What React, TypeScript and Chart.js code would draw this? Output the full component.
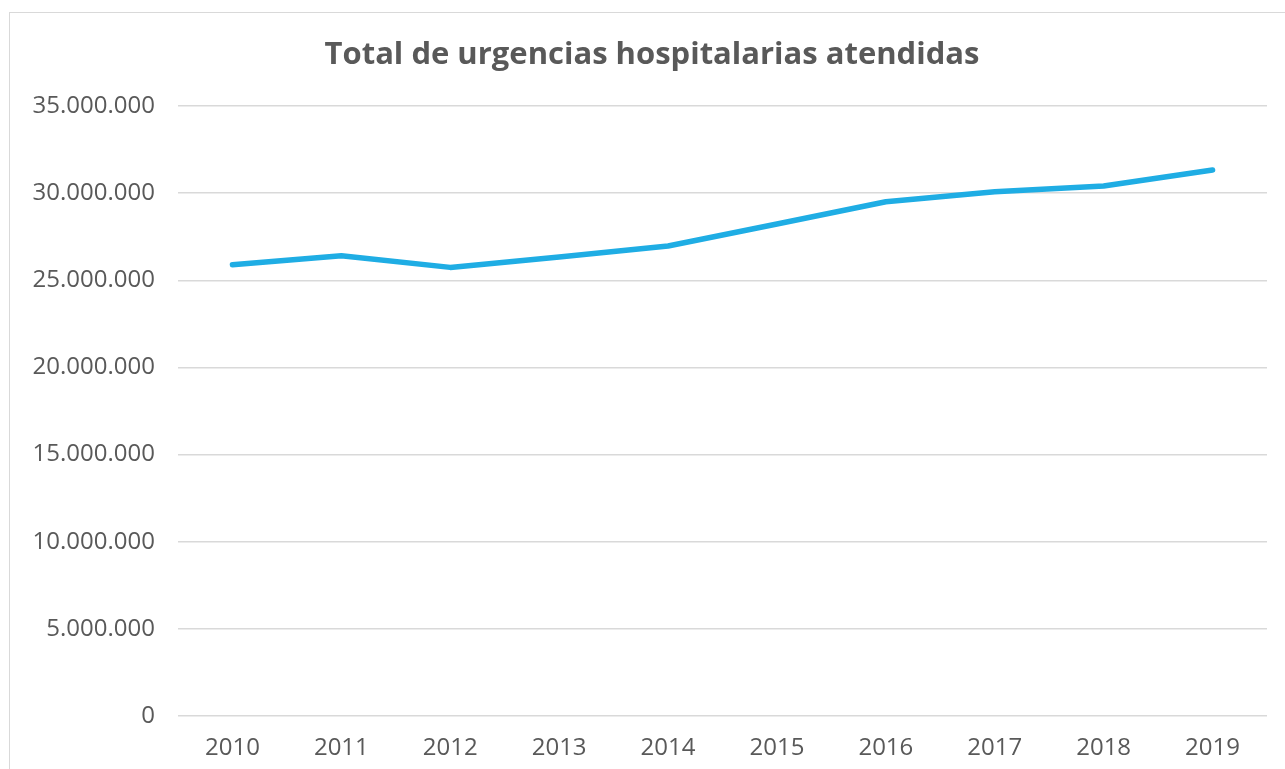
import React, { useEffect, useRef } from "react";
import { Chart, registerables } from "chart.js";

Chart.register(...registerables);

const TITLE = "Total de urgencias hospitalarias atendidas";
const YEARS = ["2010", "2011", "2012", "2013", "2014", "2015", "2016", "2017", "2018", "2019"];
const URGENCIAS = [25890000, 26410000, 25740000, 26330000, 26970000, 28230000, 29510000, 30080000, 30410000, 31330000];
const Y_MIN = 0;
const Y_MAX = 35000000;
const Y_STEP = 5000000;

const W = 1285;
const H = 780;

const fmt = (v: number) => String(Math.round(v)).replace(/\B(?=(\d{3})+(?!\d))/g, ".");

export default function App() {
  const ref = useRef<HTMLCanvasElement | null>(null);
  useEffect(() => {
    if (!ref.current) return;
    const titlePlugin = {
      id: "customTitle",
      afterDraw(chart: any) {
        const ctx = chart.ctx;
        ctx.save();
        ctx.font = "bold 31px 'Open Sans'";
        ctx.fillStyle = "#595959";
        ctx.textAlign = "center";
        ctx.textBaseline = "middle";
        ctx.fillText(TITLE, 642, 42);
        ctx.restore();
      },
    };
    const chart = new Chart(ref.current, {
      type: "line",
      data: {
        labels: YEARS,
        datasets: [
          {
            data: URGENCIAS,
            borderColor: "#1FADE4",
            borderWidth: 5.5,
            borderCapStyle: "round",
            borderJoinStyle: "round",
            pointRadius: 0,
            tension: 0,
            fill: false,
          },
        ],
      },
      options: {
        responsive: false,
        animation: false,
        layout: { padding: { top: 93, right: 28, left: 0, bottom: 0 } },
        plugins: { legend: { display: false }, title: { display: false }, tooltip: { enabled: false } },
        scales: {
          x: {
            offset: true,
            grid: { display: false },
            border: { display: false },
            ticks: { color: "#595959", font: { family: "'Open Sans'", size: 24 }, padding: 10, maxRotation: 0 },
            afterFit: (s: any) => { s.height = 77; },
          },
          y: {
            min: Y_MIN,
            max: Y_MAX,
            border: { display: false },
            grid: { color: "#d9d9d9", lineWidth: 1.5, drawTicks: false },
            ticks: {
              stepSize: Y_STEP,
              color: "#595959",
              font: { family: "'Open Sans'", size: 24 },
              padding: 23,
              callback: (v: any) => fmt(Number(v)),
            },
            afterFit: (s: any) => { s.width = 168; },
          },
        },
      },
      plugins: [titlePlugin],
    } as any);
    return () => chart.destroy();
  }, []);
  return (
    <div
      style={{
        position: "absolute",
        left: 9,
        top: 12,
        width: W,
        height: H,
        border: "1px solid #d9d9d9",
        background: "#fff",
      }}
    >
      <canvas ref={ref} width={W} height={H} style={{ display: "block", width: W, height: H }} />
    </div>
  );
}
